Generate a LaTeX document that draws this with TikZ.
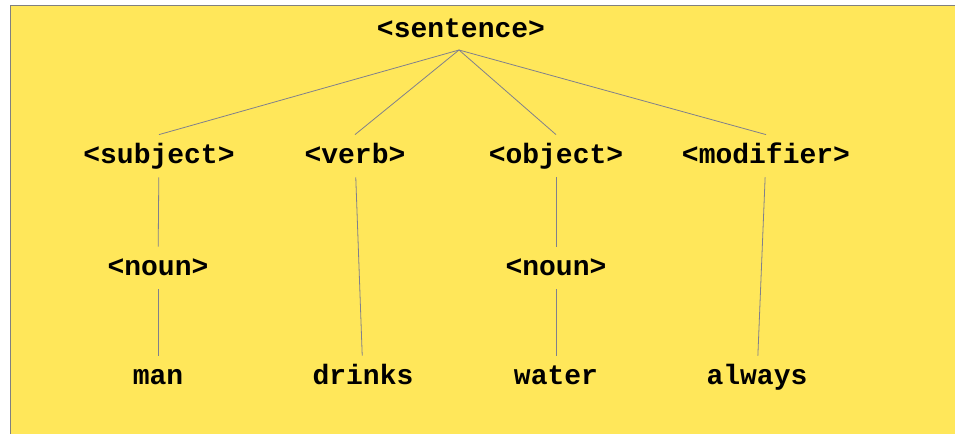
\documentclass[tikz,border=0pt]{standalone}
\usepackage{fontspec}
\setmonofont{Liberation Mono}
\definecolor{paper}{RGB}{255,231,90}
\definecolor{edge}{RGB}{128,128,140}
\begin{document}
\begin{tikzpicture}[x=0.5pt,y=-0.5pt]
    \useasboundingbox (0,0) rectangle (955,434);
    \fill[paper] (10,5) rectangle (955,434);
    \draw[gray] (10,434) -- (10,5) -- (955,5);

    \begin{scope}[font=\ttfamily\bfseries\fontsize{14}{16}\selectfont]
      \tikzstyle{every node}=[inner xsep=0pt,inner ysep=4pt,text height=10pt,text depth=3pt]
      \node (sent)  at (461,30)  {<sentence>};
      \node (subj)  at (159,156) {<subject>};
      \node (verb)  at (355,156) {<verb>};
      \node (obj)   at (556,156) {<object>};
      \node (mod)   at (766,156) {<modifier>};
      \node (nounL) at (158,268) {<noun>};
      \node (nounR) at (556,268) {<noun>};
      \node (man)   at (158,377) {man};
      \node (drk)   at (363,377) {drinks};
      \node (wat)   at (556,377) {water};
      \node (alw)   at (757,377) {always};
    \end{scope}

    \coordinate (top) at (459,50);
    \draw[edge,thin] (top) -- (subj.north);
    \draw[edge,thin] (top) -- (verb.north);
    \draw[edge,thin] (top) -- (obj.north);
    \draw[edge,thin] (top) -- (mod.north);
    \draw[edge,thin] (subj) -- (nounL);
    \draw[edge,thin] (nounL) -- (man);
    \draw[edge,thin] (verb) -- (drk);
    \draw[edge,thin] (obj) -- (nounR);
    \draw[edge,thin] (nounR) -- (wat);
    \draw[edge,thin] (mod) -- (alw);
  \end{tikzpicture}
\end{document}
